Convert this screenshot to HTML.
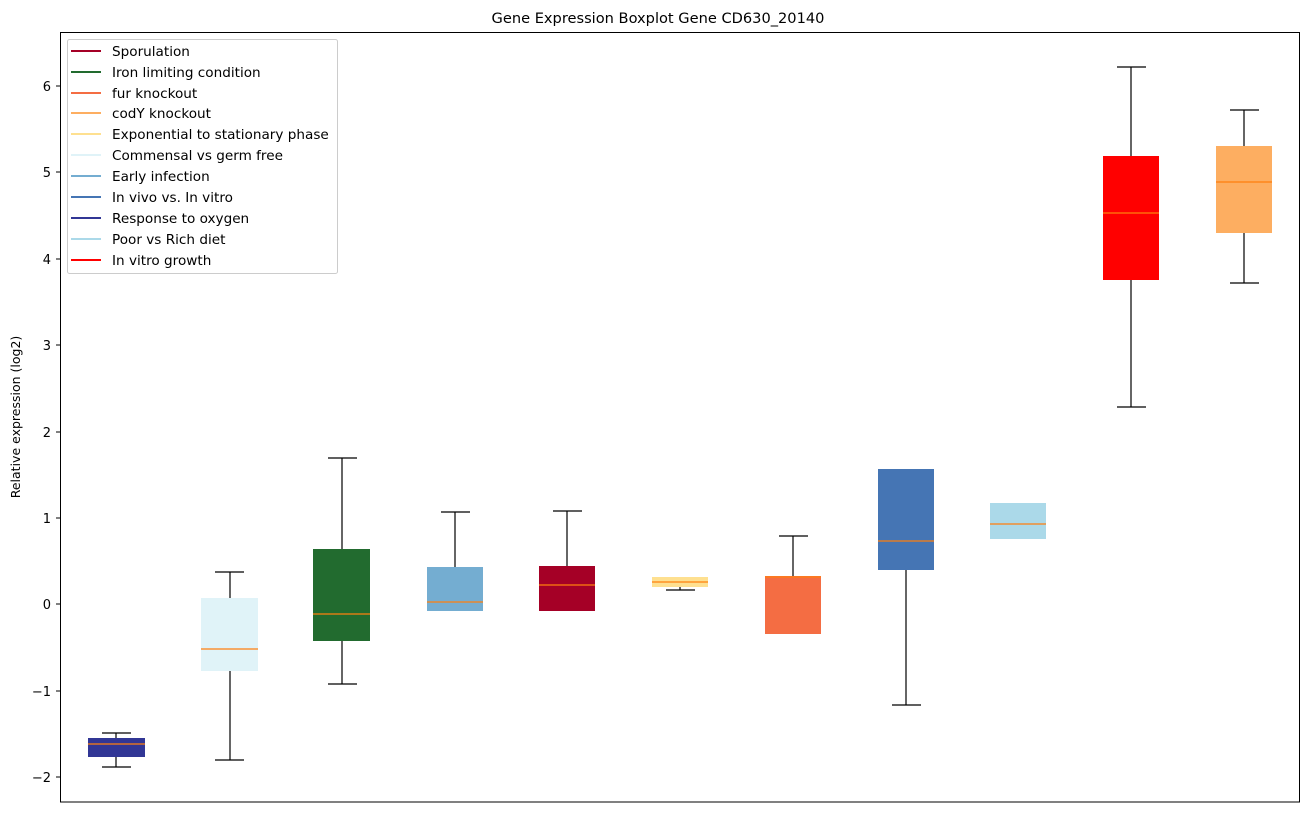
<!DOCTYPE html>
<html><head><style>body{margin:0;background:#fff}</style></head><body>
<svg width="1309" height="812" xmlns="http://www.w3.org/2000/svg" font-family="DejaVu Sans, Liberation Sans, sans-serif">
<rect width="1309" height="812" fill="#fff"/>
<text x="658" y="23" font-size="14.6" text-anchor="middle" fill="#000">Gene Expression Boxplot Gene CD630_20140</text>
<text transform="translate(20,417) rotate(-90)" font-size="12.5" text-anchor="middle">Relative expression (log2)</text>
<g font-size="13" text-anchor="end">
<text x="51" y="91">6</text><text x="51" y="177">5</text><text x="51" y="264">4</text><text x="51" y="350">3</text><text x="51" y="437">2</text><text x="51" y="523">1</text><text x="51" y="609">0</text><text x="51" y="696">−1</text><text x="51" y="782">−2</text>
</g>
<g stroke="#000" stroke-width="1">
<line x1="56" y1="86" x2="60" y2="86"/><line x1="56" y1="172" x2="60" y2="172"/><line x1="56" y1="259" x2="60" y2="259"/><line x1="56" y1="345" x2="60" y2="345"/><line x1="56" y1="432" x2="60" y2="432"/><line x1="56" y1="518" x2="60" y2="518"/><line x1="56" y1="604" x2="60" y2="604"/><line x1="56" y1="691" x2="60" y2="691"/><line x1="56" y1="777" x2="60" y2="777"/>
</g>
<g stroke="#000" stroke-width="1.2">
<line x1="116" y1="733" x2="116" y2="767"/><line x1="102" y1="733" x2="131" y2="733"/><line x1="102" y1="767" x2="131" y2="767"/>
<line x1="230" y1="572" x2="230" y2="760"/><line x1="215" y1="572" x2="244" y2="572"/><line x1="215" y1="760" x2="244" y2="760"/>
<line x1="342" y1="458" x2="342" y2="684"/><line x1="328" y1="458" x2="357" y2="458"/><line x1="328" y1="684" x2="357" y2="684"/>
<line x1="455" y1="512" x2="455" y2="611"/><line x1="441" y1="512" x2="470" y2="512"/>
<line x1="567" y1="511" x2="567" y2="611"/><line x1="553" y1="511" x2="582" y2="511"/>
<line x1="680" y1="577" x2="680" y2="590"/><line x1="666" y1="590" x2="695" y2="590"/>
<line x1="793" y1="536" x2="793" y2="634"/><line x1="779" y1="536" x2="808" y2="536"/>
<line x1="906" y1="469" x2="906" y2="705"/><line x1="892" y1="705" x2="921" y2="705"/>
<line x1="1131" y1="67" x2="1131" y2="407"/><line x1="1117" y1="67" x2="1146" y2="67"/><line x1="1117" y1="407" x2="1146" y2="407"/>
<line x1="1244" y1="110" x2="1244" y2="283"/><line x1="1230" y1="110" x2="1259" y2="110"/><line x1="1230" y1="283" x2="1259" y2="283"/>
</g>
<rect x="88" y="738" width="57" height="19" fill="#313695"/>
<rect x="201" y="598" width="57" height="73" fill="#e0f3f8"/>
<rect x="313" y="549" width="57" height="92" fill="#226b2f"/>
<rect x="427" y="567" width="56" height="44" fill="#74add1"/>
<rect x="539" y="566" width="56" height="45" fill="#a50026"/>
<rect x="652" y="577" width="56" height="10" fill="#fee090"/>
<rect x="765" y="576" width="56" height="58" fill="#f46d43"/>
<rect x="878" y="469" width="56" height="101" fill="#4575b4"/>
<rect x="990" y="503" width="56" height="36" fill="#abd9e9"/>
<rect x="1103" y="156" width="56" height="124" fill="#ff0000"/>
<rect x="1216" y="146" width="56" height="87" fill="#fdae61"/>
<g stroke="#ff7f0e" stroke-width="1.2">
<line x1="88" y1="744" x2="145" y2="744"/><line x1="201" y1="649" x2="258" y2="649"/><line x1="313" y1="614" x2="370" y2="614"/>
<line x1="427" y1="602" x2="483" y2="602"/><line x1="539" y1="585" x2="595" y2="585"/><line x1="652" y1="582" x2="708" y2="582"/>
<line x1="765" y1="577" x2="821" y2="577"/><line x1="878" y1="541" x2="934" y2="541"/><line x1="990" y1="524" x2="1046" y2="524"/>
<line x1="1103" y1="213" x2="1159" y2="213"/><line x1="1216" y1="182" x2="1272" y2="182"/>
</g>
<rect x="60.5" y="32.5" width="1239" height="769.5" fill="none" stroke="#000" stroke-width="1"/>
<rect x="67.5" y="39.5" width="270" height="234" rx="2" fill="#fff" fill-opacity="0.8" stroke="#ccc"/>
<g font-size="13.6" fill="#000">
<g stroke-width="2">
<line x1="71" y1="51" x2="101" y2="51" stroke="#a50026"/>
<line x1="71" y1="72" x2="101" y2="72" stroke="#226b2f"/>
<line x1="71" y1="93" x2="101" y2="93" stroke="#f46d43"/>
<line x1="71" y1="113" x2="101" y2="113" stroke="#fdae61"/>
<line x1="71" y1="134" x2="101" y2="134" stroke="#fee090"/>
<line x1="71" y1="155" x2="101" y2="155" stroke="#e0f3f8"/>
<line x1="71" y1="176" x2="101" y2="176" stroke="#74add1"/>
<line x1="71" y1="197" x2="101" y2="197" stroke="#4575b4"/>
<line x1="71" y1="218" x2="101" y2="218" stroke="#313695"/>
<line x1="71" y1="239" x2="101" y2="239" stroke="#abd9e9"/>
<line x1="71" y1="260" x2="101" y2="260" stroke="#ff0000"/>
</g>
<text x="112" y="56">Sporulation</text>
<text x="112" y="77">Iron limiting condition</text>
<text x="112" y="98">fur knockout</text>
<text x="112" y="118">codY knockout</text>
<text x="112" y="139">Exponential to stationary phase</text>
<text x="112" y="160">Commensal vs germ free</text>
<text x="112" y="181">Early infection</text>
<text x="112" y="202">In vivo vs. In vitro</text>
<text x="112" y="223">Response to oxygen</text>
<text x="112" y="244">Poor vs Rich diet</text>
<text x="112" y="265">In vitro growth</text>
</g>
</svg>
</body></html>
